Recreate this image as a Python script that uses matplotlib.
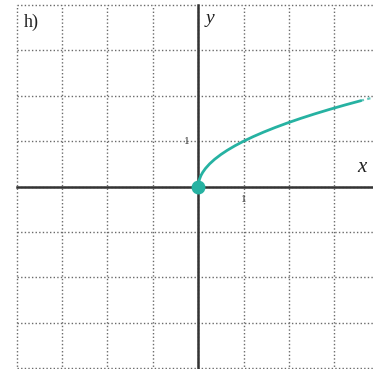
import matplotlib
matplotlib.use("Agg")
import matplotlib.pyplot as plt

# Data
curve_x = [0.0, 0.01, 0.03, 0.06, 0.1, 0.16, 0.25, 0.36, 0.5, 0.64, 0.81, 1.0,
           1.21, 1.44, 1.69, 1.96, 2.25, 2.56, 2.89, 3.24, 3.58]
curve_y = [0.0, 0.1, 0.17, 0.245, 0.316, 0.4, 0.5, 0.6, 0.707, 0.8, 0.9, 1.0,
           1.1, 1.2, 1.3, 1.4, 1.5, 1.6, 1.7, 1.8, 1.892]
tail_x = [3.58, 3.9]
tail_y = [1.892, 1.975]
origin_pt = (0.0, 0.0)
grid_x = [-4, -3, -2, -1, 0, 1, 2, 3]
grid_y = [-4, -3, -2, -1, 0, 1, 2, 3, 4]
x_tick_lbl = {1: "1"}
y_tick_lbl = {1: "1"}
panel_label = "h)"

teal = "#26b2a2"

fig = plt.figure(figsize=(3.73, 3.69), dpi=100)
ax = fig.add_axes([16.7 / 373, 1 / 369, 356.3 / 373, 362 / 369])
ax.set_xlim(-4, 3.85)
ax.set_ylim(-4, 3.98)
ax.set_axis_off()

for gx in grid_x:
    ax.plot([gx, gx], [-4.1, 4.0], color="#6a6a6a", lw=1.0, ls=(0, (1, 1.6)), zorder=1, clip_on=False)
for gy in grid_y:
    ax.plot([-4, 4], [gy, gy], color="#6a6a6a", lw=1.0, ls=(0, (1, 1.6)), zorder=1, clip_on=False)

# axes
ax.plot([-4, 4], [0, 0], color="#333333", lw=1.8, zorder=2, clip_on=False)
ax.plot([0, 0], [-4.1, 4.0], color="#333333", lw=1.8, zorder=2, clip_on=False)

ax.plot(curve_x, curve_y, color=teal, lw=2.0, zorder=3, solid_capstyle="round")
ax.plot(tail_x, tail_y, color=teal, lw=1.6, ls=(0, (1.5, 1.5)), alpha=0.7, zorder=3, clip_on=False)
ax.plot([origin_pt[0]], [origin_pt[1]], "o", color=teal, ms=9, zorder=4)

serif = ["Liberation Serif", "DejaVu Serif"]
for v, t in x_tick_lbl.items():
    ax.text(v, -0.18, t, ha="center", va="top", fontsize=8, family=serif, color="#333333")
for v, t in y_tick_lbl.items():
    ax.text(-0.2, v, t, ha="right", va="center", fontsize=8, family=serif, color="#333333")
ax.text(3.6, 0.2, "x", ha="center", va="bottom", fontsize=15, style="italic", family=serif, color="#222222")
ax.text(0.26, 3.7, "y", ha="center", va="center", fontsize=14, style="italic", family=serif, color="#222222")
ax.text(-3.85, 3.62, panel_label, ha="left", va="center", fontsize=13, family=serif, color="#222222")

fig.savefig("out.png", dpi=100, facecolor="white")
